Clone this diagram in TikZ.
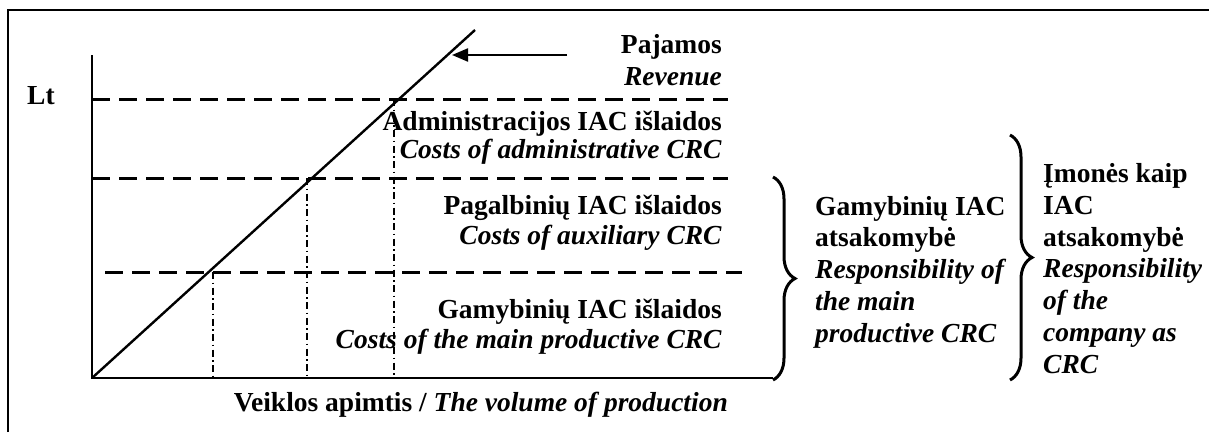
\documentclass[tikz,border=0pt]{standalone}
\usepackage{fontspec}
\setmainfont{Liberation Serif}
\usetikzlibrary{arrows.meta, decorations.pathreplacing, calc}

\tikzset{
  lbl/.style={font=\fontsize{27.5}{31.7}\selectfont\bfseries, inner sep=0pt},
  lvl/.style={line width=3pt, dash pattern=on 18pt off 9pt},
  drop/.style={line width=1.6pt, dash pattern=on 7pt off 3.5pt on 1.5pt off 3.5pt},
  axisline/.style={line width=2.4pt},
  crcbrace/.style={decorate, decoration={brace, amplitude=22pt}, line width=3pt},
}

\begin{document}
\begin{tikzpicture}[x=1pt, y=-1pt]
\useasboundingbox (0,0) rectangle (1209,432);
% frame
\draw[line width=1.6pt] (8,432) |- (1209,10);

% axes and revenue line
\coordinate (O) at (92,378);
\coordinate (ytop) at (92,55);
\coordinate (xend) at (773,378);
\coordinate (rev) at (475,30);
\draw[axisline] (ytop) -- (O) -- (xend);
\draw[axisline] (O) -- (rev);

% cost levels
\coordinate (adm) at (394,99);
\coordinate (aux) at (307,178);
\coordinate (prod) at (213,272);
\draw[lvl] (92,99) -- (728,99);
\draw[lvl] (92,178) -- (728,178);
\draw[lvl] (105,272) -- (742,272);
\foreach \p in {adm, aux, prod}
  \draw[drop] (\p) -- (\p |- O);

% revenue arrow
\coordinate (arrstart) at (567,55);
\coordinate (arrtip) at (452,55);
\draw[line width=2.2pt, -{Triangle[length=16pt, width=13pt]}] (arrstart) -- (arrtip);

% labels (base anchor = last line)
\node[lbl, anchor=base west] (lt) at (27,104) {Lt};
\node[lbl, anchor=base east, align=right] (revtxt) at (722,85) {Pajamos\\[0pt]\textit{Revenue}};
\node[lbl, anchor=base east, align=right] (admtxt) at (722,158) {Administracijos IAC išlaidos\\[-3.7pt]\textit{Costs of administrative CRC}};
\node[lbl, anchor=base east, align=right] (auxtxt) at (722,244) {Pagalbinių IAC išlaidos\\[-1.7pt]\textit{Costs of auxiliary CRC}};
\node[lbl, anchor=base east, align=right] (prodtxt) at (722,348) {Gamybinių IAC išlaidos\\[-1.7pt]\textit{Costs of the main productive CRC}};
\node[lbl, anchor=base east] (volume) at (728,411) {Veiklos apimtis / \textit{The volume of production}};

% responsibility braces
\draw[crcbrace] (773,177) -- (773,380);
\node[lbl, anchor=base west, align=left] (mainresp) at (815,342)
  {Gamybinių IAC\\atsakomybė\\\textit{Responsibility of}\\\textit{the main}\\\textit{productive CRC}};
\draw[crcbrace] (1010,135) -- (1010,380);
\node[lbl, anchor=base west, align=left] (compresp) at (1043,373)
  {Įmonės kaip\\IAC\\atsakomybė\\\textit{Responsibility}\\\textit{of the}\\\textit{company as}\\\textit{CRC}};
\end{tikzpicture}
\end{document}
